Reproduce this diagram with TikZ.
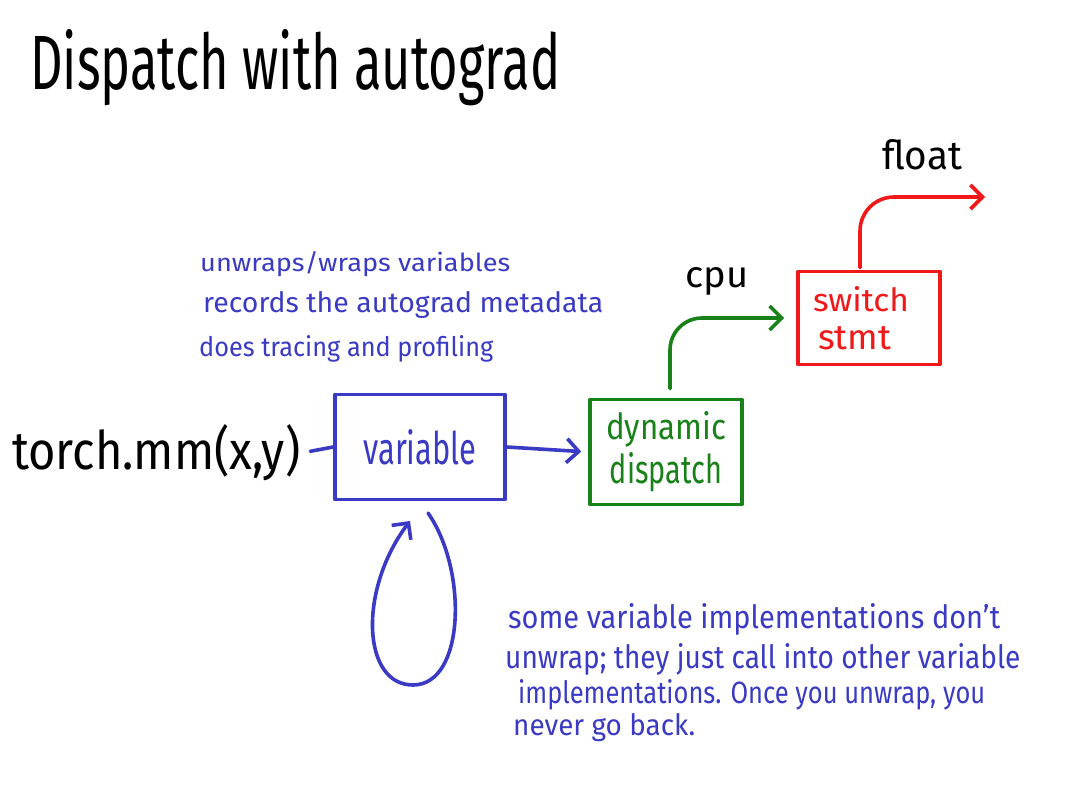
\documentclass[tikz,border=0pt]{standalone}
\usepackage{fontspec}
\usepackage{graphicx}
\setmainfont{Fira Sans}
\usetikzlibrary{arrows.meta}
\definecolor{inkblue}{RGB}{58,58,196}
\definecolor{inkgreen}{RGB}{24,130,24}
\definecolor{inkred}{RGB}{240,24,24}
\newcommand\fitbox[3]{\resizebox{#1pt}{#2pt}{#3}}
\tikzset{
  ink/.style={line width=3.6pt, line cap=round, line join=round},
  tip/.style={-{Straight Barb[length=12pt,width=24pt]}},
  txt/.style={inner sep=0pt, anchor=base west},
  inkbox/.style={ink, draw, inner sep=0pt, align=center},
}
\begin{document}
\begin{tikzpicture}[x=1pt,y=-1pt]
\fill[white] (0,0) rectangle (1080,810);
\useasboundingbox (0,0) rectangle (1080,810);

% title
\node[txt] (title) at (30,90) {\fitbox{530}{60}{Dispatch with autograd}};

% upper blue notes
\node[txt, text=inkblue] (n1) at (200,272) {\fitbox{310}{20}{unwraps/wraps variables}};
\node[txt, text=inkblue] (n2) at (203,313) {\fitbox{400}{21}{records the autograd metadata}};
\node[txt, text=inkblue] (n3) at (199,357) {\fitbox{294}{21}{does tracing and profiling}};

% main nodes
\node[txt] (torch) at (12,470) {\fitbox{288}{45}{torch.mm(x,y)}};
\node[inkbox, color=inkblue, minimum width=170pt, minimum height=105pt] (var) at (420,447)
  {\fitbox{113}{35}{variable}};
\node[inkbox, color=inkgreen, minimum width=152pt, minimum height=105pt] (dd) at (666,452)
  {\fitbox{120}{28}{dynamic}\\[4pt]\fitbox{112}{31}{dispatch}};
\node[inkbox, color=inkred, minimum width=142pt, minimum height=93pt, align=left,
      text width=112pt] (sw) at (869,318)
  {\fitbox{96}{25}{switch}\\[14pt]\hspace*{5pt}\fitbox{73}{23}{stmt}};

\node[txt] (cpu) at (685,288) {\fitbox{63}{20}{cpu}};
\node[txt] (float) at (882,170) {\fitbox{80}{30}{float}};

\coordinate (fend) at (985,197);
\coordinate (ls) at (428,513);
\coordinate (le) at (410,521);

% connectors
\draw[ink, inkblue, shorten <=10pt] (torch.east) -- (var.west);
\draw[ink, inkblue, tip, shorten >=7pt] (var.east) -- (dd.west);
\draw[ink, inkgreen, tip, rounded corners=32pt]
  ([xshift=4pt,yshift=9pt]dd.north) |- ([xshift=-12pt]sw.west);
\draw[ink, inkred, tip, rounded corners=34pt]
  ([xshift=-9pt,yshift=2pt]sw.north) |- (fend);
\draw[ink, inkblue, tip]
  (ls) .. controls (468,570) and (465,685) .. (413,685)
       .. controls (362,685) and (358,590) .. (le);

% lower blue note
\node[txt, text=inkblue] (m1) at (508,628) {\fitbox{492}{25}{some variable implementations don't}};
\node[txt, text=inkblue] (m2) at (505,668) {\fitbox{515}{25}{unwrap; they just call into other variable}};
\node[txt, text=inkblue] (m3) at (518,703) {\fitbox{467}{24}{implementations. Once you unwrap, you}};
\node[txt, text=inkblue] (m4) at (513,735) {\fitbox{182}{22}{never go back.}};
\end{tikzpicture}
\end{document}
